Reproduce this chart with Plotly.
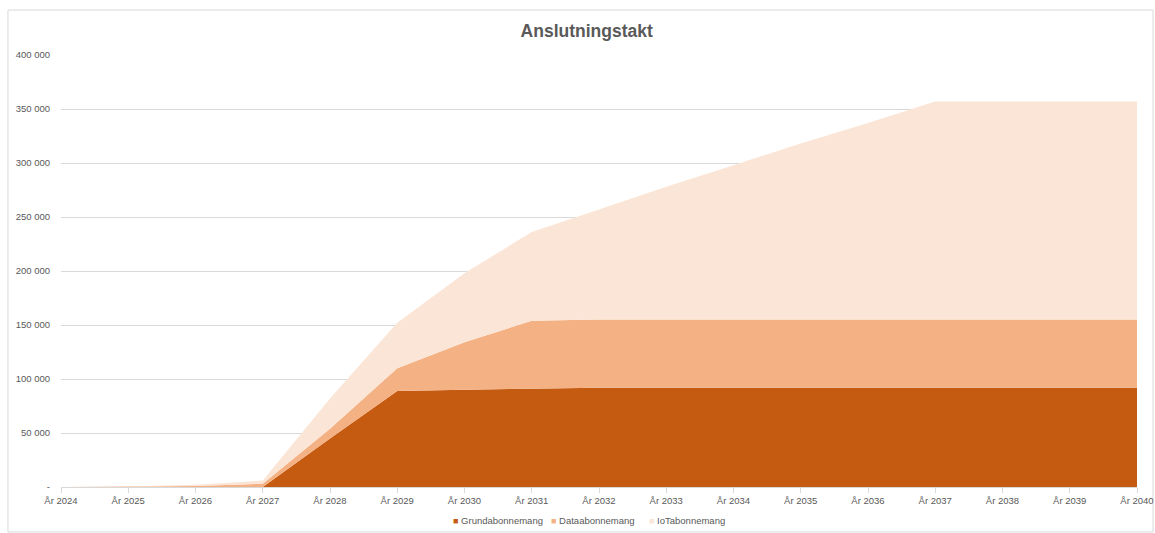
import plotly.graph_objects as go

years = ["År %d" % y for y in range(2024, 2041)]
grund = [0, 0, 0, 0, 45000, 89000, 90000, 91000, 92000, 92000, 92000, 92000, 92000, 92000, 92000, 92000, 92000]
data_ab = [0, 200, 1000, 3000, 9000, 21000, 44000, 63000, 63000, 63000, 63000, 63000, 63000, 63000, 63000, 63000, 63000]
iot = [0, 300, 1000, 3000, 28000, 42000, 64000, 82000, 102000, 123000, 143000, 163000, 182000, 202000, 202000, 202000, 202000]
ytick_vals = [0, 50000, 100000, 150000, 200000, 250000, 300000, 350000, 400000]
ytick_text = ["-", "50 000", "100 000", "150 000", "200 000", "250 000", "300 000", "350 000", "400 000"]

series = [
    ("Grundabonnemang", grund, "#C55A11"),
    ("Dataabonnemang", data_ab, "#F4B183"),
    ("IoTabonnemang", iot, "#FBE5D6"),
]

fig = go.Figure()
for name, vals, col in series:
    fig.add_trace(go.Scatter(
        x=years, y=vals, name=name, mode="lines", stackgroup="one",
        line=dict(width=0, color=col), fillcolor=col, showlegend=False,
    ))

font_fam = "Liberation Sans, Arial, sans-serif"

# legend rendered as text entries below the axis
legend_x = [0.3625, 0.4535, 0.5446]
for (name, vals, col), lx in zip(series, legend_x):
    fig.add_annotation(
        xref="paper", yref="paper", x=lx, y=-0.0787, xanchor="left", yanchor="middle",
        text="<span style='color:%s;font-size:9px'>■</span> %s" % (col, name),
        showarrow=False, font=dict(family=font_fam, size=9.5, color="#595959"),
    )

fig.update_layout(
    width=1155, height=533,
    margin=dict(l=61, r=18, t=55, b=46),
    paper_bgcolor="white", plot_bgcolor="white",
    title=dict(text="<b>Anslutningstakt</b>", x=0.508, xanchor="center", y=0.942, yanchor="middle",
               font=dict(family=font_fam, size=17.5, color="#595959")),
    font=dict(family=font_fam, size=10, color="#595959"),
    xaxis=dict(range=[0, 16], showgrid=False, showline=True, linecolor="#D9D9D9", linewidth=1,
               ticks="outside", ticklen=5, tickcolor="#D9D9D9", tickfont=dict(size=9.5, color="#595959"),
               automargin=False),
    yaxis=dict(range=[0, 400000], tickvals=ytick_vals, ticktext=ytick_text, showgrid=True,
               gridcolor="#D9D9D9", gridwidth=1, zeroline=False, showline=False,
               ticks="", ticklabelstandoff=10, tickfont=dict(size=9.5, color="#595959"),
               automargin=False),
    showlegend=False,
)
fig.add_shape(type="rect", xref="paper", yref="paper",
              x0=-0.0493, x1=1.0149, y0=-0.104, y1=1.104,
              line=dict(color="#D9D9D9", width=1), fillcolor="rgba(0,0,0,0)", layer="below")
fig.write_html("out.html", config={"displayModeBar": False},
               post_script="document.body.style.margin='0';document.body.style.overflow='hidden';")
